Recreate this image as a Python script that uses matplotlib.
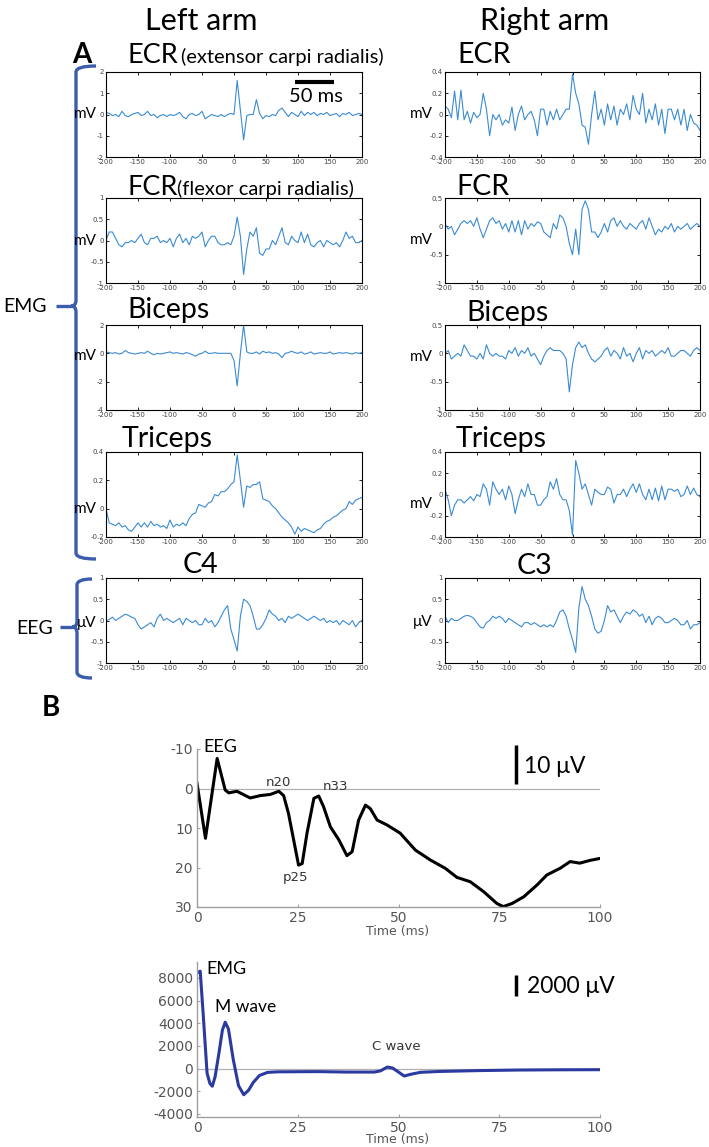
import matplotlib
matplotlib.use("Agg")
import matplotlib.pyplot as plt
from matplotlib.path import Path
from matplotlib.patches import PathPatch
from matplotlib.ticker import FormatStrFormatter

plt.rcParams['axes.unicode_minus'] = False

# ---------------- data: panel A (time grid -200..200 ms, 5 ms step) ----------------
t_a = list(range(-200, 201, 5))

ecr_left = [0.1, 0.05, -0.05, 0.0, -0.1, 0.15, -0.05, -0.1, 0.0,
            0.05, 0.1, -0.05, 0.0, 0.15, -0.05, 0.0, -0.15, -0.05,
            0.0, -0.1, 0.0, -0.05, 0.0, 0.1, -0.1, -0.2, 0.0,
            0.05, -0.05, 0.0, 0.15, -0.2, -0.1, 0.0, -0.05, -0.1,
            0.0, -0.1, 0.0, 0.05, 0.0, 1.6, 0.2, -1.2, -0.05,
            0.0, 0.0, 0.7, 0.05, -0.2, -0.05, -0.1, 0.0, -0.05,
            0.2, 0.3, 0.1, -0.1, 0.1, 0.0, -0.1, 0.15, -0.05,
            0.1, 0.0, 0.1, -0.05, 0.05, 0.0, 0.1, -0.05, 0.0,
            0.05, -0.1, 0.05, 0.0, 0.1, -0.05, 0.0, 0.05, 0.0]
fcr_left = [0.0, 0.2, 0.2, 0.05, -0.1, -0.15, -0.05, -0.05, 0.0,
            -0.05, 0.05, 0.15, -0.05, -0.1, 0.05, 0.05, 0.1, -0.05,
            0.0, -0.05, 0.05, -0.15, 0.05, 0.15, -0.05, 0.05, -0.1,
            0.1, 0.05, 0.1, 0.2, -0.15, 0.0, 0.1, 0.1, -0.05,
            -0.1, -0.1, -0.05, -0.1, 0.1, 0.55, 0.1, -0.8, -0.2,
            0.2, 0.1, 0.3, -0.3, -0.35, -0.2, -0.2, 0.0, -0.1,
            0.1, 0.3, -0.05, -0.1, 0.1, 0.0, -0.05, 0.2, -0.05,
            0.15, -0.1, -0.15, -0.05, 0.0, -0.15, 0.0, -0.05, -0.1,
            -0.05, -0.15, 0.0, 0.2, 0.05, 0.1, -0.05, -0.05, 0.0]
biceps_left = [0.1, 0.05, 0.0, 0.05, -0.05, 0.0, 0.2, 0.05, 0.0,
               -0.05, 0.0, 0.05, 0.0, 0.15, 0.0, -0.1, 0.0, -0.05,
               0.0, 0.05, 0.1, 0.0, 0.05, 0.0, -0.05, 0.05, 0.0,
               -0.1, -0.2, -0.05, 0.0, 0.15, 0.0, 0.0, 0.05, 0.0,
               0.0, 0.0, 0.0, 0.0, -0.5, -2.3, 0.0, 2.0, 0.1,
               0.0, 0.0, 0.1, -0.05, 0.15, 0.05, 0.1, 0.0, 0.05,
               -0.05, -0.3, 0.0, 0.05, 0.15, 0.05, 0.0, 0.1, -0.05,
               0.0, 0.1, -0.05, 0.0, 0.05, 0.0, 0.0, 0.1, -0.05,
               0.0, 0.05, 0.0, 0.05, 0.0, -0.05, 0.05, 0.0, 0.05]
triceps_left = [0.0, -0.1, -0.11, -0.12, -0.1, -0.13, -0.12, -0.15, -0.16,
                -0.13, -0.1, -0.13, -0.1, -0.13, -0.09, -0.12, -0.11, -0.13,
                -0.12, -0.14, -0.08, -0.13, -0.11, -0.12, -0.1, -0.12, -0.07,
                -0.04, -0.03, 0.03, 0.02, 0.01, 0.04, 0.05, 0.1, 0.09,
                0.12, 0.12, 0.14, 0.17, 0.19, 0.38, 0.2, 0.01, 0.16,
                0.15, 0.17, 0.17, 0.19, 0.07, 0.06, 0.05, 0.02, 0.0,
                -0.03, -0.06, -0.08, -0.1, -0.13, -0.18, -0.13, -0.16, -0.14,
                -0.15, -0.16, -0.17, -0.15, -0.14, -0.11, -0.09, -0.08, -0.06,
                -0.05, -0.03, -0.01, 0.0, 0.05, 0.03, 0.06, 0.07, 0.08]
c4_left = [0.0, 0.02, 0.08, 0.0, 0.05, 0.1, 0.15, 0.12, 0.08,
           0.05, -0.1, -0.2, -0.15, -0.1, -0.05, -0.15, 0.05, 0.15,
           0.0, 0.05, 0.0, -0.05, 0.0, 0.05, -0.1, 0.05, 0.0,
           -0.05, 0.0, -0.1, -0.1, 0.05, -0.05, 0.0, -0.15, -0.05,
           0.1, 0.25, 0.35, -0.2, -0.45, -0.72, 0.1, 0.5, 0.45,
           0.35, 0.1, -0.2, -0.2, -0.1, 0.05, 0.25, 0.15, 0.1,
           0.0, 0.05, -0.05, 0.1, 0.05, 0.1, 0.15, 0.1, 0.05,
           0.0, 0.05, 0.1, 0.05, 0.0, 0.05, -0.05, 0.0, -0.05,
           0.0, -0.1, 0.0, -0.05, -0.1, 0.0, -0.15, -0.05, 0.0]

ecr_right = [0.08, 0.05, -0.03, 0.22, -0.05, 0.23, -0.05, 0.03, -0.08,
             0.02, -0.03, 0.0, 0.2, 0.05, -0.2, 0.0, -0.05, 0.0,
             -0.1, -0.05, -0.08, 0.07, -0.15, 0.0, 0.08, -0.05, 0.0,
             0.03, -0.05, -0.2, 0.05, 0.05, -0.1, 0.03, -0.05, 0.05,
             -0.05, 0.0, 0.05, 0.05, 0.38, 0.2, 0.1, -0.1, -0.12,
             -0.28, 0.0, 0.22, -0.05, 0.05, -0.1, 0.1, -0.05, 0.08,
             -0.1, 0.05, 0.0, 0.1, -0.05, 0.18, 0.05, 0.0, 0.2,
             -0.08, 0.05, -0.05, 0.1, -0.1, 0.05, -0.18, 0.05, 0.05,
             -0.05, 0.05, -0.1, 0.05, -0.15, 0.0, -0.08, -0.1, -0.15]
fcr_right = [0.05, -0.05, 0.0, -0.15, -0.05, 0.05, 0.1, 0.05, 0.1,
             0.0, 0.15, -0.05, -0.2, -0.05, 0.1, 0.15, 0.05, 0.1,
             -0.05, 0.05, -0.1, 0.1, -0.1, 0.1, -0.15, 0.1, -0.05,
             0.05, 0.0, 0.08, 0.05, -0.1, -0.15, -0.2, 0.05, -0.05,
             0.2, 0.15, 0.0, -0.3, -0.5, -0.05, -0.5, 0.3, 0.45,
             0.3, -0.1, -0.1, -0.2, -0.1, 0.05, -0.1, 0.1, 0.15,
             0.0, 0.1, 0.0, -0.05, 0.05, 0.0, -0.05, 0.05, 0.1,
             -0.05, 0.15, 0.0, -0.15, -0.05, -0.1, 0.0, -0.05, 0.05,
             -0.1, 0.0, -0.05, 0.0, 0.05, -0.05, 0.0, 0.05, 0.0]
biceps_right = [0.0, 0.05, -0.1, -0.05, 0.0, -0.05, 0.15, 0.05, -0.05,
                -0.05, -0.1, 0.0, -0.1, 0.15, 0.0, -0.05, 0.0, -0.05,
                -0.05, -0.1, 0.05, 0.0, 0.1, -0.05, 0.05, 0.0, 0.1,
                -0.05, 0.0, -0.1, -0.2, -0.05, 0.05, 0.1, 0.05, 0.05,
                0.05, 0.0, -0.1, -0.68, -0.2, 0.1, 0.2, 0.1, 0.15,
                0.0, -0.1, -0.15, -0.1, -0.05, 0.05, 0.1, -0.05, 0.05,
                0.0, -0.1, 0.1, -0.05, 0.0, -0.15, 0.0, 0.1, -0.1,
                0.05, 0.0, 0.05, -0.05, 0.0, 0.05, 0.0, 0.1, -0.05,
                -0.05, 0.0, 0.05, 0.05, 0.0, -0.05, 0.05, 0.1, 0.05]
triceps_right = [0.05, -0.05, -0.2, -0.1, -0.05, -0.05, -0.08, -0.05, -0.02,
                 -0.06, 0.0, -0.02, 0.1, 0.05, -0.1, 0.12, 0.05, 0.0,
                 0.05, -0.05, 0.08, 0.0, -0.18, -0.05, 0.05, -0.02, 0.1,
                 0.0, 0.0, -0.1, -0.1, -0.05, -0.02, 0.12, 0.05, 0.15,
                 0.0, -0.05, -0.05, -0.15, -0.38, 0.32, 0.2, 0.05, 0.1,
                 0.0, -0.1, 0.05, 0.02, 0.0, 0.0, 0.07, 0.05, -0.08,
                 0.0, 0.0, 0.05, -0.02, 0.05, 0.1, 0.02, 0.1, 0.0,
                 -0.05, 0.05, -0.05, 0.06, -0.06, 0.08, -0.05, 0.05, 0.05,
                 0.03, 0.05, -0.02, 0.0, 0.08, 0.0, 0.06, 0.0, -0.02]
c3_right = [0.1, -0.05, 0.05, 0.0, 0.0, 0.05, 0.1, 0.12, 0.1,
            0.05, -0.05, -0.15, -0.18, -0.05, 0.0, 0.1, 0.05, 0.1,
            0.05, -0.05, 0.05, 0.0, -0.05, -0.1, -0.15, -0.05, -0.05,
            -0.1, -0.05, -0.1, -0.15, -0.1, -0.15, -0.1, -0.15, 0.0,
            0.2, 0.25, 0.1, -0.2, -0.45, -0.75, 0.3, 0.8, 0.5,
            0.35, 0.1, -0.2, -0.3, -0.25, 0.0, 0.35, 0.2, 0.25,
            0.1, -0.05, 0.1, 0.2, 0.15, 0.25, 0.2, 0.1, 0.15,
            -0.05, 0.1, -0.1, 0.05, 0.1, 0.05, -0.05, -0.05, 0.0,
            0.05, 0.0, -0.1, -0.1, 0.0, -0.2, -0.1, -0.1, -0.05]

# ---------------- data: panel B ----------------
eeg_t = [0, 2.1, 5.0, 7.0, 7.9, 9.9, 13.2, 15.7, 18.2, 20.3, 21.5, 22.7, 25.2, 26.1,
         27.3, 29.0, 30.2, 31.4, 33.1, 35.2, 37.2, 38.5, 40.1, 41.8, 43.0, 44.7, 47.1,
         50.4, 54.2, 57.9, 61.6, 64.5, 67.8, 71.1, 74.4, 76.0, 78.2, 81.1, 84.4, 86.8,
         90.1, 92.6, 95.0, 97.5, 100]
eeg_uv = [-1.3, 12.6, -7.6, 0.4, 1.1, 0.7, 2.4, 1.8, 1.5, 0.7, 1.8, 6.3, 19.4, 19.0,
          11.3, 2.5, 1.9, 4.6, 9.7, 13.0, 17.0, 16.0, 8.0, 4.2, 5.1, 8.0, 9.2,
          11.3, 15.6, 18.1, 20.2, 22.5, 23.6, 26.1, 29.1, 29.9, 29.1, 27.4, 24.4, 21.9,
          20.2, 18.5, 18.9, 18.2, 17.7]

emg_t = [0, 0.8, 1.5, 2.5, 3.2, 3.8, 4.5, 5.5, 6.3, 7.0, 7.8, 9.0, 10.3, 11.6, 12.8,
         14.0, 15.5, 17.5, 20, 30, 37, 44, 45.5, 47.2, 48.5, 50, 51.4, 53, 55.5, 60,
         70, 80, 90, 100]
emg_uv = [8450, 8600, 5000, -400, -1300, -1550, -700, 1500, 3400, 4100, 3500, 800,
          -1500, -2300, -1900, -1200, -600, -330, -280, -260, -300, -300, -200, 140,
          60, -300, -650, -500, -320, -250, -170, -120, -100, -90]

# ---------------- figure ----------------
W, H = 709, 1147
fig = plt.figure(figsize=(W / 100, H / 100), dpi=100)
LATO = ['Lato', 'DejaVu Sans']
TRACE = '#3a8bd3'
BRACE = '#3b5dab'


def add_ax(x0, y0, x1, y1):
    # pixel box (top-left origin) -> figure fraction
    return fig.add_axes([x0 / W, 1 - y1 / H, (x1 - x0) / W, (y1 - y0) / H])


cols = {'L': (106, 362), 'R': (445, 700)}
row_tops = [72, 198, 325, 452, 578]

panels = [
    ('L', 0, ecr_left, (-2, 2), [-2, -1, 0, 1, 2]),
    ('L', 1, fcr_left, (-1, 1), [-1, -0.5, 0, 0.5, 1]),
    ('L', 2, biceps_left, (-4, 2), [-4, -2, 0, 2]),
    ('L', 3, triceps_left, (-0.2, 0.4), [-0.2, 0, 0.2, 0.4]),
    ('L', 4, c4_left, (-1, 1), [-1, -0.5, 0, 0.5, 1]),
    ('R', 0, ecr_right, (-0.4, 0.4), [-0.4, -0.2, 0, 0.2, 0.4]),
    ('R', 1, fcr_right, (-1, 0.5), [-1, -0.5, 0, 0.5]),
    ('R', 2, biceps_right, (-1, 0.5), [-1, -0.5, 0, 0.5]),
    ('R', 3, triceps_right, (-0.4, 0.4), [-0.4, -0.2, 0, 0.2, 0.4]),
    ('R', 4, c3_right, (-1, 1), [-1, -0.5, 0, 0.5, 1]),
]

for col, row, vals, ylim, yticks in panels:
    x0, x1 = cols[col]
    top = row_tops[row]
    ax = add_ax(x0, top, x1, top + 85)
    ax.plot(t_a, vals, color=TRACE, lw=0.8)
    ax.set_xlim(-200, 200)
    ax.set_ylim(*ylim)
    ax.set_xticks(range(-200, 201, 50))
    ax.set_yticks(yticks)
    ax.xaxis.set_major_formatter(FormatStrFormatter('%g'))
    ax.yaxis.set_major_formatter(FormatStrFormatter('%g'))
    ax.tick_params(direction='in', top=True, right=True, length=2.5, width=0.6,
                   labelsize=5, pad=1.5, labelcolor='#444444')
    for s in ax.spines.values():
        s.set_linewidth(0.8)

# ---------------- panel B ----------------
axe = add_ax(197, 749, 600, 907)
axe.axhline(0, color='#b0b0b0', lw=0.9)
axe.plot(eeg_t, eeg_uv, color='black', lw=2.2)
axe.set_xlim(0, 100)
axe.set_ylim(30, -10)
axe.set_xticks([0, 25, 50, 75, 100])
axe.set_yticks([-10, 0, 10, 20, 30])

axm = add_ax(197, 962, 600, 1117)
axm.axhline(0, color='#b0b0b0', lw=0.9)
axm.plot(emg_t, emg_uv, color='#2b3aa0', lw=2.2)
axm.set_xlim(0, 100)
axm.set_ylim(-4265, 9410)
axm.set_xticks([0, 25, 50, 75, 100])
axm.set_yticks(range(-4000, 8001, 2000))

for ax in (axe, axm):
    for side in ('top', 'right'):
        ax.spines[side].set_visible(False)
    for side in ('left', 'bottom'):
        ax.spines[side].set_color('#a0a0a0')
        ax.spines[side].set_linewidth(1.0)
    ax.tick_params(direction='in', length=2.5, width=0.8, color='#a0a0a0',
                   labelsize=10, labelcolor='#555555', pad=3)

# ---------------- overlay for labels and braces (pixel coords) ----------------
ov = fig.add_axes([0, 0, 1, 1])
ov.set_xlim(0, W)
ov.set_ylim(H, 0)
ov.axis('off')


def txt(x, y, s, size, ha='left', va='baseline', color='black', weight='normal', family=LATO):
    ov.text(x, y, s, fontsize=size, ha=ha, va=va, color=color, weight=weight, family=family)


txt(201, 30, 'Left arm', 22, ha='center')
txt(545, 30, 'Right arm', 22, ha='center')
txt(72, 63, 'A', 20, weight='bold')
txt(42, 716, 'B', 20, weight='bold')

# panel titles
TS = 20.5
txt(128, 63, 'ECR', 19.5)
txt(181, 63, '(extensor carpi radialis)', 14.5)
txt(128, 195, 'FCR', 19.5)
txt(177, 195, '(flexor carpi radialis)', 14.5)
txt(127, 318, 'Biceps', TS)
txt(122, 447, 'Triceps', TS)
txt(183, 573, 'C4', TS)
txt(457, 63, 'ECR', TS)
txt(456, 195, 'FCR', TS)
txt(466, 321, 'Biceps', TS)
txt(456, 447, 'Triceps', TS)
txt(517, 574, 'C3', TS)

# unit labels
for x, y, s in [(97, 114, 'mV'), (97, 241, 'mV'), (97, 356, 'mV'), (97, 509, 'mV'),
                (97, 623, 'μV'), (433, 114, 'mV'), (433, 240, 'mV'), (433, 357, 'mV'),
                (433, 504, 'mV'), (433, 622, 'μV')]:
    txt(x, y, s, 11, ha='right', va='center')

# 50 ms scale bar
ov.plot([295, 334], [82, 82], color='black', lw=3, solid_capstyle='butt')
txt(316, 102, '50 ms', 14.5, ha='center')

# panel B annotations
txt(203, 752, 'EEG', 13)
txt(278, 782, 'n20', 9.5, ha='center', va='center', color='#333333', family='DejaVu Sans')
txt(336, 786, 'n33', 9.5, ha='center', va='center', color='#333333', family='DejaVu Sans')
txt(296, 878, 'p25', 9.5, ha='center', va='center', color='#333333', family='DejaVu Sans')
txt(398, 931, 'Time (ms)', 9, ha='center', va='center', color='#555555', family='DejaVu Sans')
ov.plot([516, 516], [745, 784], color='black', lw=2.5, solid_capstyle='butt')
txt(524, 773, '10 μV', 16.5)

txt(206, 974, 'EMG', 13)
txt(215, 1012, 'M wave', 12.5)
txt(396, 1047, 'C wave', 9.5, ha='center', va='center', color='#333333', family='DejaVu Sans')
txt(398, 1140, 'Time (ms)', 9, ha='center', va='center', color='#555555', family='DejaVu Sans')
ov.plot([516, 516], [975, 996], color='black', lw=2.5, solid_capstyle='butt')
txt(527, 993, '2000 μV', 16.5)


def brace(x, y0, y1, ytip, hook, tip_len):
    # curly bracket "{" opening to the right, drawn in pixel coordinates
    r = 6
    verts = [(x + hook, y0), (x, y0), (x, y0 + r),
             (x, ytip - r), (x, ytip), (x - 5, ytip),
             (x, ytip), (x, ytip + r),
             (x, y1 - r), (x, y1), (x + hook, y1)]
    codes = [Path.MOVETO, Path.CURVE3, Path.CURVE3,
             Path.LINETO, Path.CURVE3, Path.CURVE3,
             Path.CURVE3, Path.CURVE3,
             Path.LINETO, Path.CURVE3, Path.CURVE3]
    ov.add_patch(PathPatch(Path(verts, codes), fill=False, edgecolor=BRACE, lw=2.4))
    ov.plot([x - 5 - tip_len, x - 5], [ytip, ytip], color=BRACE, lw=2.4, solid_capstyle='butt')


brace(76, 66, 559, 306, 20, 15)
brace(77, 579, 678, 627, 15, 12)
txt(25, 306, 'EMG', 14, ha='center', va='center')
txt(35, 628, 'EEG', 14, ha='center', va='center')

fig.savefig('out.png', dpi=100)
